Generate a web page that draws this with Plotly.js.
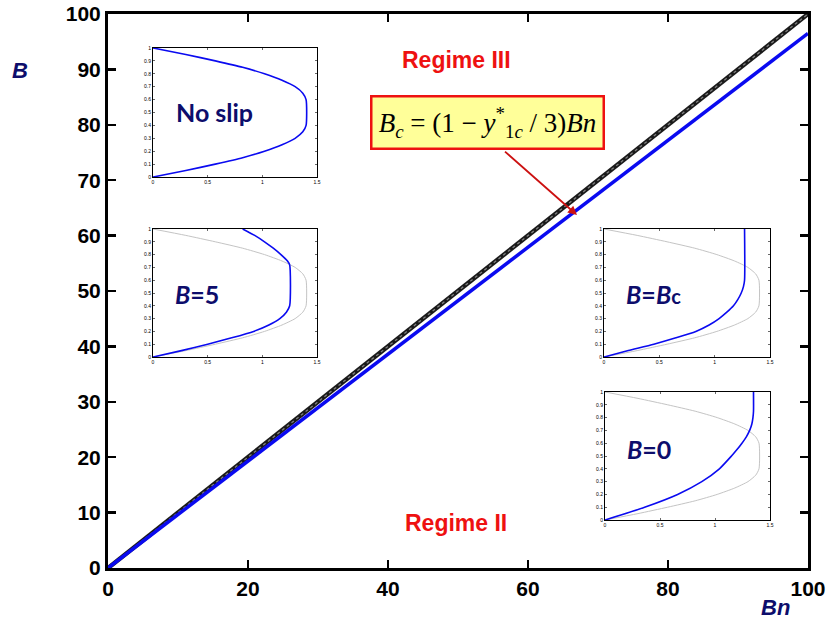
<!DOCTYPE html>
<html><head><meta charset="utf-8">
<script src="https://cdn.plot.ly/plotly-3.0.1.min.js"></script>
<style>body{margin:0;padding:0;background:#fff}#chart{width:831px;height:630px}</style>
</head><body><div id="chart"></div>
<script>
// ---- main chart data ----
const bnVals = [0, 100];
const bNoSlipLine = [0, 100];
const bcLine = [0, 96.5];
const xTicks = [0, 20, 40, 60, 80, 100];
const yTicks = [0, 10, 20, 30, 40, 50, 60, 70, 80, 90, 100];

// ---- inset data (velocity u vs y) ----
const yNoSlip = [0,0.05,0.1,0.15,0.2,0.25,0.3,0.35,0.4,0.6,0.65,0.7,0.75,0.8,0.85,0.9,0.95,1];
const uNoSlip = [0,0.3,0.57,0.82,1.02,1.18,1.3,1.37,1.4,1.4,1.37,1.3,1.18,1.02,0.82,0.57,0.3,0];

const yB5 = [0,0.05,0.1,0.15,0.2,0.25,0.3,0.35,0.4,0.72,0.75,0.8,0.85,0.9,0.95,1];
const uB5 = [0,0.26,0.5,0.72,0.92,1.06,1.16,1.22,1.25,1.25,1.23,1.17,1.1,1.02,0.93,0.82];

const yBc = [0,0.05,0.1,0.15,0.2,0.25,0.3,0.35,0.4,0.45,0.5,0.55,0.6,1];
const uBc = [0,0.22,0.45,0.65,0.83,0.95,1.04,1.11,1.17,1.21,1.24,1.26,1.27,1.27];

const yB0 = [0,0.1,0.2,0.3,0.4,0.5,0.55,0.6,0.65,0.7,0.75,0.8,0.85,1];
const uB0 = [0,0.36,0.66,0.88,1.04,1.15,1.2,1.245,1.285,1.315,1.335,1.345,1.35,1.35];

const insetXTicks = [0, 0.5, 1, 1.5];
const insetYTicks = [0,0.1,0.2,0.3,0.4,0.5,0.6,0.7,0.8,0.9,1];

// ---- geometry helpers ----
const W = 831, H = 630, ML = 108, MR = 23, MT = 14, MB = 62;
const PW = W - ML - MR, PH = H - MT - MB;
const px = v => (v - ML) / PW;
const py = v => (H - MB - v) / PH;

const BLUE = '#0a0af0', GREY = '#c4c4c4', NAVY = '#0d0d6b', RED = '#ee1111';
const sp = {shape: 'spline', smoothing: 0.6};

const traces = [
  {x: bnVals, y: bNoSlipLine, mode: 'lines', line: {color: '#1a1a1a', width: 4.5}, xaxis: 'x', yaxis: 'y', hoverinfo: 'skip'},
  {x: bnVals, y: bNoSlipLine, mode: 'lines', line: {color: 'rgba(140,140,140,0.9)', width: 1.3, dash: 'dot'}, xaxis: 'x', yaxis: 'y', hoverinfo: 'skip'},
  {x: bnVals, y: bcLine, mode: 'lines', line: {color: BLUE, width: 3.5}, xaxis: 'x', yaxis: 'y'},
  // inset 1: no slip
  {x: uNoSlip, y: yNoSlip, mode: 'lines', line: Object.assign({color: BLUE, width: 1.6}, sp), xaxis: 'x2', yaxis: 'y2'},
  // inset 2: B=5
  {x: uNoSlip, y: yNoSlip, mode: 'lines', line: Object.assign({color: GREY, width: 1}, sp), xaxis: 'x3', yaxis: 'y3'},
  {x: uB5, y: yB5, mode: 'lines', line: Object.assign({color: BLUE, width: 1.6}, sp), xaxis: 'x3', yaxis: 'y3'},
  // inset 3: B=Bc
  {x: uNoSlip, y: yNoSlip, mode: 'lines', line: Object.assign({color: GREY, width: 1}, sp), xaxis: 'x4', yaxis: 'y4'},
  {x: uBc, y: yBc, mode: 'lines', line: Object.assign({color: BLUE, width: 1.6}, sp), xaxis: 'x4', yaxis: 'y4'},
  // inset 4: B=0
  {x: uNoSlip, y: yNoSlip, mode: 'lines', line: Object.assign({color: GREY, width: 1}, sp), xaxis: 'x5', yaxis: 'y5'},
  {x: uB0, y: yB0, mode: 'lines', line: Object.assign({color: BLUE, width: 1.6}, sp), xaxis: 'x5', yaxis: 'y5'}
];

const mainAxis = {
  range: [0, 100], showline: true, linewidth: 3, linecolor: '#000',
  mirror: 'allticks', ticks: 'inside', ticklen: 8, tickwidth: 2.5, tickcolor: '#000',
  showgrid: false, zeroline: false,
  tickfont: {family: 'Liberation Sans Narrow, Liberation Sans, Arial', size: 21, color: '#000', weight: 'bold'}
};

function insetAxes(xd, yd, yAnchor, xAnchor) {
  return [{
    domain: xd, anchor: yAnchor, range: [0, 1.5], tickvals: insetXTicks, ticktext: ['0','0.5','1','1.5'],
    showline: true, mirror: 'ticks', linewidth: 1, linecolor: '#000', ticks: 'inside', ticklen: 2,
    tickwidth: 0.8, showgrid: false, zeroline: false, tickfont: {size: 5, color: '#000', family: 'Liberation Sans'}
  }, {
    domain: yd, anchor: xAnchor, range: [0, 1], tickvals: insetYTicks,
    showline: true, mirror: 'ticks', linewidth: 1, linecolor: '#000', ticks: 'inside', ticklen: 2,
    tickwidth: 0.8, showgrid: false, zeroline: false, tickfont: {size: 5, color: '#000', family: 'Liberation Sans'}
  }];
}

const [x2, y2] = insetAxes([px(153), px(317)], [py(177), py(48)], 'y2', 'x2');
const [x3, y3] = insetAxes([px(153), px(317)], [py(357), py(229)], 'y3', 'x3');
const [x4, y4] = insetAxes([px(604), px(770)], [py(357), py(229)], 'y4', 'x4');
const [x5, y5] = insetAxes([px(605), px(770)], [py(520), py(392)], 'y5', 'x5');

const labelFont = {family: 'Lato, Open Sans, Liberation Sans', size: 25, color: NAVY, weight: 'bold'};
const ann = (x, y, text, font, extra) => Object.assign({xref: 'paper', yref: 'paper', x: px(x), y: py(y), text: text, showarrow: false, font: font, xanchor: 'center', yanchor: 'middle'}, extra || {});

const annotations = [
  ann(20, 70, '<i>B</i>', {family: 'Liberation Sans, Arial', size: 22, color: NAVY, weight: 'bold'}),
  ann(775, 607, '<i>Bn</i>', {family: 'Liberation Sans, Arial', size: 22, color: NAVY, weight: 'bold'}),
  ann(456, 60, 'Regime III', {family: 'Liberation Sans, Arial', size: 23, color: RED, weight: 'bold'}),
  ann(456, 523, 'Regime II', {family: 'Liberation Sans, Arial', size: 23, color: RED, weight: 'bold'}),
  ann(214, 112, 'No slip', labelFont),
  ann(197, 294, '<i>B</i>=5', labelFont),
  ann(653, 294, '<i>B</i>=<i>B</i><span style="font-size:20px">c</span>', labelFont),
  ann(649, 449, '<i>B</i>=0', labelFont),
  // arrow
  {xref: 'paper', yref: 'paper', axref: 'pixel', ayref: 'pixel', x: px(577), y: py(215), ax: -75, ay: -66,
   text: ' ', showarrow: true, arrowhead: 2, arrowsize: 1, arrowwidth: 1.8, arrowcolor: '#cc1111'},
  // formula box
  ann(487, 122, '<i>B</i><sub><i>c</i></sub> = (1 − <i>y</i><sup>*</sup><sub>1<i>c</i></sub> / 3)<i>Bn</i>',
      {family: 'Liberation Serif, Times New Roman, serif', size: 27, color: '#000'},
      {bgcolor: '#ffff99', bordercolor: '#ee1111', borderwidth: 2.5, borderpad: 4, width: 222, height: 42})
];

const layout = {
  width: W, height: H,
  margin: {l: ML, r: MR, t: MT, b: MB},
  paper_bgcolor: '#fff', plot_bgcolor: 'rgba(0,0,0,0)',
  showlegend: false,
  xaxis: Object.assign({domain: [0, 1], anchor: 'y', tickvals: xTicks}, mainAxis),
  yaxis: Object.assign({domain: [0, 1], anchor: 'x', tickvals: yTicks}, mainAxis),
  xaxis2: x2, yaxis2: y2, xaxis3: x3, yaxis3: y3, xaxis4: x4, yaxis4: y4, xaxis5: x5, yaxis5: y5,
  annotations: annotations
};

Plotly.newPlot('chart', traces, layout, {displayModeBar: false, staticPlot: true});
</script></body></html>
